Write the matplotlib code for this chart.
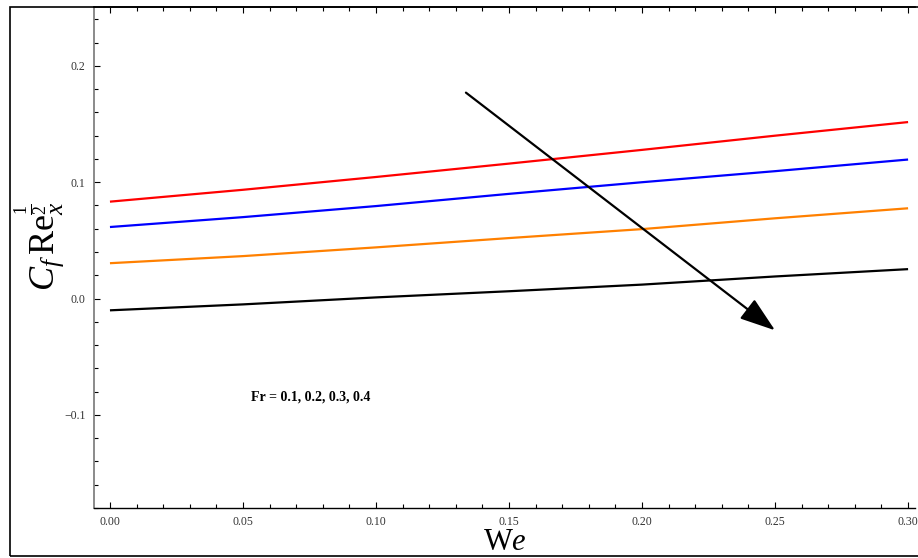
import matplotlib
matplotlib.use("Agg")
import matplotlib.pyplot as plt
from matplotlib.patches import Rectangle
from matplotlib.ticker import MultipleLocator

plt.rcParams.update({
    "font.family": "Liberation Serif",
    "mathtext.fontset": "custom",
    "mathtext.rm": "Liberation Serif",
    "mathtext.it": "Liberation Serif:italic",
    "mathtext.bf": "Liberation Serif:bold",
})

# Weissenberg number samples and skin-friction curves for each Froude number
we = [0.00, 0.05, 0.10, 0.15, 0.20, 0.25, 0.30]
fr_labels = ["0.1", "0.2", "0.3", "0.4"]
cf_fr1 = [0.0833, 0.0935, 0.1045, 0.1160, 0.1278, 0.1400, 0.1517]
cf_fr2 = [0.0615, 0.0700, 0.0795, 0.0900, 0.1000, 0.1095, 0.1195]
cf_fr3 = [0.0304, 0.0365, 0.0440, 0.0520, 0.0597, 0.0690, 0.0776]
cf_fr4 = [-0.0101, -0.0050, 0.0010, 0.0063, 0.0120, 0.0190, 0.0253]
colors = ["#ff0000", "#0000ff", "#ff8000", "#000000"]

fig = plt.figure(figsize=(9.18, 5.58), dpi=100)
ax = fig.add_axes([94 / 918, 1 - 508 / 558, (915 - 94) / 918, (508 - 7) / 558])

for ys, c in zip([cf_fr1, cf_fr2, cf_fr3, cf_fr4], colors):
    ax.plot(we, ys, color=c, lw=1.6, solid_capstyle="butt")

ax.set_xlim(-0.006, 0.3026)
ax.set_ylim(-0.180, 0.2506)

ax.xaxis.set_major_locator(MultipleLocator(0.05))
ax.xaxis.set_minor_locator(MultipleLocator(0.01))
ax.yaxis.set_major_locator(MultipleLocator(0.1))
ax.yaxis.set_minor_locator(MultipleLocator(0.02))
ax.xaxis.set_major_formatter(plt.FuncFormatter(lambda v, p: f"{v:.2f}"))
ax.yaxis.set_major_formatter(plt.FuncFormatter(
    lambda v, p: ("\u2212" if v < -1e-9 else "") + f"{abs(v):.1f}"))

ax.tick_params(which="both", direction="in", top=True, right=False,
               labelsize=8.5, labelcolor="#333333", width=0.8, pad=6)
ax.tick_params(which="major", length=4.5)
ax.tick_params(which="minor", length=3)
ax.spines["right"].set_visible(False)
ax.spines["left"].set_color("#777777")
ax.spines["left"].set_linewidth(1.2)
ax.spines["bottom"].set_linewidth(1.0)
ax.spines["top"].set_linewidth(1.2)

# arrow showing increasing Fr
ax.annotate("", xy=(0.250, -0.0273), xytext=(0.1338, 0.177),
            arrowprops=dict(arrowstyle="-|>,head_length=2.2,head_width=0.75",
                            color="black", lw=1.6, shrinkA=0, shrinkB=0))

ax.text(0.0756, -0.085, "Fr = " + ", ".join(fr_labels), ha="center",
        va="center", fontsize=10, fontweight="bold")

ax.set_xlabel(r"$\mathrm{W}e$", fontsize=22, labelpad=0)
fig.text(40 / 918, 1 - 246 / 558, r"$C_f\,\mathrm{Re}_x^{\frac{1}{2}}$",
         rotation=90, ha="center", va="center", fontsize=26)

# outer frame
fig.patches.append(Rectangle((10 / 918, 1 - 556 / 558), 1.0, (556 - 7) / 558,
                             transform=fig.transFigure, fill=False,
                             edgecolor="black", lw=1.2))

fig.savefig("out.png", dpi=100, facecolor="white")
